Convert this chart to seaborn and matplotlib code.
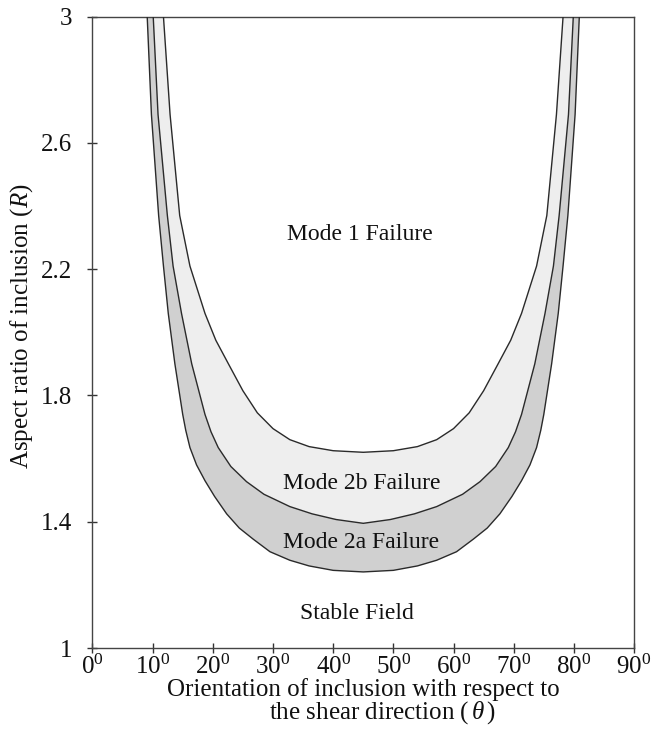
import matplotlib
matplotlib.use("Agg")
import matplotlib.pyplot as plt
import seaborn as sns
import pandas as pd

# ---- data ----
# lower boundary of Mode 2a (outer curve)
theta_a = [9.1, 9.8, 11.0, 11.8, 12.6, 13.7, 15.0, 15.5, 16.2, 17.3,
           18.7, 20.3, 22.3, 24.4, 26.7, 29.5, 32.8, 36.0, 40.0, 45.0,
           50.0, 54.0, 57.2, 60.5, 63.3, 65.6, 67.7, 69.7, 71.3, 72.7,
           73.8, 74.5, 75.0, 76.3, 77.4, 78.2, 79.0, 80.2, 80.9]
r_a = [3.0, 2.69, 2.37, 2.21, 2.06, 1.90, 1.74, 1.69, 1.635, 1.58,
       1.53, 1.48, 1.425, 1.38, 1.345, 1.305, 1.278, 1.26, 1.246, 1.241,
       1.246, 1.26, 1.278, 1.305, 1.345, 1.38, 1.425, 1.48, 1.53, 1.58,
       1.635, 1.69, 1.74, 1.90, 2.06, 2.21, 2.37, 2.69, 3.0]
# boundary between Mode 2a and Mode 2b (middle curve)
theta_b = [10.1, 10.9, 12.45, 13.4, 14.8, 16.5, 18.7, 19.7, 20.9, 23.0,
           25.6, 28.5, 32.8, 36.5, 40.5, 45.0, 49.5, 53.5, 57.2, 61.5,
           64.4, 67.0, 69.1, 70.3, 71.3, 73.5, 75.2, 76.6, 77.55, 79.1, 79.9]
r_b = [3.0, 2.69, 2.37, 2.21, 2.06, 1.90, 1.74, 1.685, 1.635, 1.575,
       1.527, 1.487, 1.448, 1.425, 1.407, 1.395, 1.407, 1.425, 1.448, 1.487,
       1.527, 1.575, 1.635, 1.685, 1.74, 1.90, 2.06, 2.21, 2.37, 2.69, 3.0]
# boundary between Mode 2b and Mode 1 (inner curve)
theta_c = [11.8, 12.9, 14.5, 16.2, 18.7, 20.5, 22.6, 25.0, 27.4, 30.0,
           32.8, 36.0, 40.0, 45.0, 50.0, 54.0, 57.2, 60.0, 62.6, 65.0,
           67.4, 69.5, 71.3, 73.8, 75.5, 77.1, 78.2]
r_c = [3.0, 2.69, 2.37, 2.21, 2.06, 1.975, 1.90, 1.815, 1.745, 1.695,
       1.66, 1.638, 1.625, 1.62, 1.625, 1.638, 1.66, 1.695, 1.745, 1.815,
       1.90, 1.975, 2.06, 2.21, 2.37, 2.69, 3.0]

x_ticks = [0, 10, 20, 30, 40, 50, 60, 70, 80, 90]
x_tick_labels = [r"$\mathrm{%d^{0}}$" % v for v in x_ticks]
y_ticks = [1, 1.4, 1.8, 2.2, 2.6, 3]
y_tick_labels = ["1", "1.4", "1.8", "2.2", "2.6", "3"]

region_labels = ["Mode 1 Failure", "Mode 2b Failure", "Mode 2a Failure", "Stable Field"]
region_pos = [(44.4, 2.31), (44.7, 1.52), (44.6, 1.335), (43.9, 1.11)]

# ---- style ----
sns.set_theme(style="white")
plt.rcParams["font.family"] = ["Liberation Serif", "DejaVu Serif"]
plt.rcParams["mathtext.fontset"] = "custom"
plt.rcParams["mathtext.rm"] = "Liberation Serif"
plt.rcParams["mathtext.it"] = "Liberation Serif:italic"

fig = plt.figure(figsize=(6.51, 7.41), dpi=100)
ax = fig.add_axes([0.142, 0.1255, 0.832, 0.852])

# shaded bands
band_a_x = theta_a + theta_b[::-1]
band_a_y = r_a + r_b[::-1]
band_b_x = theta_b + theta_c[::-1]
band_b_y = r_b + r_c[::-1]
ax.fill(band_a_x, band_a_y, color="#d0d0d0", lw=0, zorder=1)
ax.fill(band_b_x, band_b_y, color="#eeeeee", lw=0, zorder=1)

df = pd.concat([
    pd.DataFrame({"theta": theta_a, "R": r_a, "curve": "A"}),
    pd.DataFrame({"theta": theta_b, "R": r_b, "curve": "B"}),
    pd.DataFrame({"theta": theta_c, "R": r_c, "curve": "C"}),
])
sns.lineplot(data=df, x="theta", y="R", units="curve", estimator=None, sort=False,
             color="#2a2a2a", lw=1.0, ax=ax, zorder=3,
             solid_joinstyle="round", solid_capstyle="round")

for txt, (px, py) in zip(region_labels, region_pos):
    ax.text(px, py, txt, ha="center", va="center", fontsize=17, color="#111111", zorder=4)

ax.set_xlim(0, 90)
ax.set_ylim(1, 3)
ax.set_xticks(x_ticks)
ax.set_xticklabels(x_tick_labels, fontsize=18)
ax.set_yticks(y_ticks)
ax.set_yticklabels(y_tick_labels, fontsize=18)
ax.tick_params(axis="both", direction="inout", length=7, width=1, color="#333333",
               labelcolor="#111111", bottom=True, left=True, top=False, right=False)
ax.tick_params(axis="x", pad=1)
ax.tick_params(axis="y", pad=11)
for s in ax.spines.values():
    s.set_color("#444444")
    s.set_linewidth(1.0)

ax.set_xlabel("Orientation of inclusion with respect to", fontsize=18, color="#111111")
ax.xaxis.set_label_coords(0.5, -0.047)
ax.text(0.535, -0.103, r"the shear direction ($\,\theta\,$)", transform=ax.transAxes,
        ha="center", va="center", fontsize=18, color="#111111")
ax.set_ylabel(r"Aspect ratio of inclusion ($R$)", fontsize=18, color="#111111")
ax.yaxis.set_label_coords(-0.106, 0.51)

fig.savefig("out.png", dpi=100, facecolor="white")
